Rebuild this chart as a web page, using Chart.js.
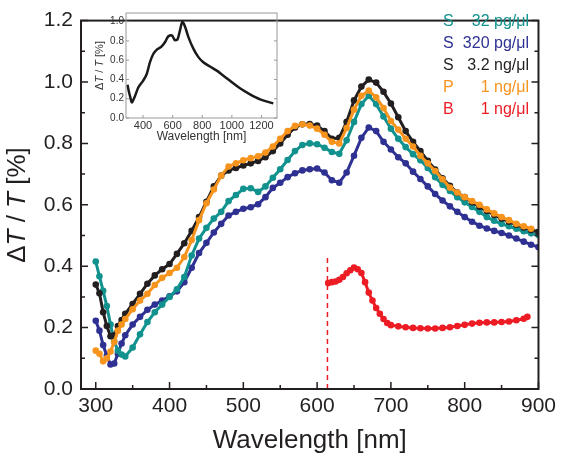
<!DOCTYPE html>
<html>
<head>
<meta charset="utf-8">
<script src="https://cdn.jsdelivr.net/npm/chart.js@4.4.0/dist/chart.umd.min.js"></script>
<style>
  body { margin: 0; background: #fff; }
  #wrap { position: relative; width: 561px; height: 459px; }
  #main { position: absolute; left: 0; top: 0; }
  #inset { position: absolute; left: 90px; top: 0; }
</style>
</head>
<body>
<div id="wrap">
  <canvas id="main" width="561" height="459"></canvas>
  <canvas id="inset" width="200" height="148"></canvas>
</div>
<script>
// wavelengths (nm) shared by the four S/P series
const wl = [300, 305, 310, 315, 320, 325, 330, 335, 340,
  350, 360, 370, 380, 390, 400, 410, 420, 430, 440,
  450, 460, 470, 480, 490, 500, 510, 520, 530, 540,
  550, 560, 570, 580, 590, 600, 610, 620, 630, 640,
  650, 660, 670, 680, 690, 700, 710, 720, 730, 740,
  750, 760, 770, 780, 790, 800, 810, 820, 830, 840,
  850, 860, 870, 880, 890, 900];

const s32pg = [0.415, 0.367, 0.32, 0.27, 0.21, 0.155, 0.125, 0.112, 0.106,
  0.135, 0.178, 0.218, 0.25, 0.275, 0.30, 0.325, 0.365, 0.435, 0.49,
  0.525, 0.555, 0.577, 0.612, 0.632, 0.652, 0.654, 0.642, 0.66, 0.688,
  0.716, 0.746, 0.775, 0.795, 0.80, 0.797, 0.786, 0.772, 0.766, 0.81,
  0.87, 0.928, 0.955, 0.928, 0.888, 0.848, 0.815, 0.788, 0.765, 0.745,
  0.72, 0.69, 0.665, 0.645, 0.625, 0.608, 0.593, 0.577, 0.56, 0.548,
  0.538, 0.53, 0.522, 0.514, 0.507, 0.502];

const s320pg = [0.222, 0.19, 0.143, 0.108, 0.08, 0.083, 0.115, 0.148, 0.175,
  0.21, 0.235, 0.258, 0.275, 0.288, 0.302, 0.318, 0.348, 0.395, 0.443,
  0.476, 0.51, 0.538, 0.565, 0.577, 0.587, 0.592, 0.602, 0.625, 0.655,
  0.672, 0.69, 0.703, 0.712, 0.716, 0.718, 0.705, 0.68, 0.672, 0.705,
  0.76, 0.818, 0.852, 0.84, 0.805, 0.78, 0.755, 0.735, 0.708, 0.684,
  0.66, 0.635, 0.614, 0.595, 0.577, 0.56, 0.545, 0.532, 0.523, 0.515,
  0.508, 0.5, 0.49, 0.48, 0.47, 0.462];

const s3ng = [0.34, 0.312, 0.25, 0.205, 0.172, 0.175, 0.205, 0.225, 0.245,
  0.277, 0.31, 0.343, 0.37, 0.39, 0.407, 0.44, 0.475, 0.515, 0.56,
  0.61, 0.66, 0.695, 0.712, 0.72, 0.728, 0.735, 0.743, 0.755, 0.775,
  0.80, 0.828, 0.852, 0.862, 0.863, 0.858, 0.84, 0.815, 0.818, 0.87,
  0.94, 0.985, 1.008, 0.998, 0.968, 0.93, 0.885, 0.84, 0.805, 0.775,
  0.743, 0.715, 0.686, 0.662, 0.64, 0.625, 0.608, 0.594, 0.58, 0.567,
  0.555, 0.545, 0.535, 0.526, 0.518, 0.512];

const p1ng = [0.125, 0.115, 0.09, 0.1, 0.122, 0.153, 0.19, 0.21, 0.228,
  0.26, 0.288, 0.31, 0.339, 0.362, 0.378, 0.395, 0.43, 0.485, 0.55,
  0.605, 0.65, 0.695, 0.725, 0.735, 0.745, 0.752, 0.758, 0.77, 0.79,
  0.815, 0.84, 0.857, 0.862, 0.858, 0.848, 0.828, 0.805, 0.80, 0.85,
  0.91, 0.955, 0.972, 0.95, 0.915, 0.873, 0.845, 0.815, 0.79, 0.76,
  0.735, 0.71, 0.683, 0.656, 0.64, 0.625, 0.612, 0.6, 0.585, 0.572,
  0.56, 0.55, 0.538, 0.53, 0.522, null];

// B sample starts after the cut-off marker
const wlB = [615, 620, 625, 630, 635, 640, 645, 650, 655, 660, 665, 670, 675, 680, 685,
  690, 695, 700, 710, 720, 730, 740, 750, 760, 770, 780, 790, 800, 810, 820,
  830, 840, 850, 860, 870, 880, 885];
const b1ng = [0.345, 0.348, 0.35, 0.356, 0.365, 0.377, 0.387, 0.396, 0.39, 0.378, 0.348, 0.314, 0.288, 0.264, 0.245,
  0.228, 0.215, 0.208, 0.204, 0.201, 0.199, 0.198, 0.197, 0.197, 0.199, 0.201, 0.205, 0.209, 0.213, 0.216,
  0.217, 0.217, 0.218, 0.22, 0.224, 0.229, 0.235];

const cutX = [614, 614];
const cutY = [0, 0.435];

// inset: broad range spectrum
const insetWl = [295, 305, 312, 318, 324, 335, 346, 368, 400, 425, 447, 470, 493, 526, 549, 571, 594,
  616, 632, 650, 666, 684, 706, 740, 774, 807, 853, 898, 943, 988, 1055, 1123, 1191, 1280];
const insetVal = [0.345, 0.27, 0.228, 0.19, 0.16, 0.19, 0.228, 0.316, 0.386, 0.457, 0.579, 0.667, 0.709, 0.744, 0.789, 0.849, 0.86,
  0.807, 0.815, 0.913, 1.0, 0.947, 0.842, 0.72, 0.632, 0.579, 0.534, 0.492, 0.439, 0.386, 0.309, 0.246, 0.194, 0.152];

const sampleType = ['S', 'S', 'S', 'P', 'B'];
const sampleConc = ['32 pg/μl', '320 pg/μl', '3.2 ng/μl', '1 ng/μl', '1 ng/μl'];
const colors = ['#12928e', '#2e3192', '#231f20', '#f7941d', '#ed1c24'];

const xTicks = [300, 400, 500, 600, 700, 800, 900];
const xMinor = [350, 450, 550, 650, 750, 850];
const yTicks = [0, 0.2, 0.4, 0.6, 0.8, 1.0, 1.2];
const yMinor = [0.1, 0.3, 0.5, 0.7, 0.9, 1.1];
const insetXTicks = [400, 600, 800, 1000, 1200];
const insetYTicks = [0, 0.2, 0.4, 0.6, 0.8, 1.0];

const FONT = '"Liberation Sans", Arial, sans-serif';
const INK = '#231f20';

const pts = (xs, ys) => xs.map((x, i) => ({ x: x, y: ys[i] }));

// "ΔT / T [%]" with italic T, rotated
function drawYTitle(ctx, cx, cy, size, color) {
  const parts = [['Δ', ''], ['T', 'italic '], [' / ', ''], ['T', 'italic '], [' [%]', '']];
  ctx.save();
  ctx.translate(cx, cy);
  ctx.rotate(-Math.PI / 2);
  ctx.fillStyle = color;
  ctx.textBaseline = 'middle';
  ctx.textAlign = 'left';
  let total = 0;
  parts.forEach(p => { ctx.font = p[1] + size + 'px ' + FONT; total += ctx.measureText(p[0]).width; });
  let x = -total / 2;
  parts.forEach(p => {
    ctx.font = p[1] + size + 'px ' + FONT;
    ctx.fillText(p[0], x, 0);
    x += ctx.measureText(p[0]).width;
  });
  ctx.restore();
}

function framePlugin(o) {
  return {
    id: 'frame',
    afterDraw(chart) {
      const ctx = chart.ctx, a = chart.chartArea, x = chart.scales.x, y = chart.scales.y;
      ctx.save();
      ctx.strokeStyle = o.color;
      ctx.lineWidth = o.width;
      ctx.strokeRect(a.left, a.top, a.right - a.left, a.bottom - a.top);
      ctx.lineWidth = o.tickWidth;
      ctx.beginPath();
      const xt = (vals, len) => vals.forEach(v => {
        const p = x.getPixelForValue(v);
        ctx.moveTo(p, a.bottom); ctx.lineTo(p, a.bottom - len);
      });
      const yt = (vals, len) => vals.forEach(v => {
        const p = y.getPixelForValue(v);
        ctx.moveTo(a.left, p); ctx.lineTo(a.left + len, p);
        ctx.moveTo(a.right, p); ctx.lineTo(a.right - len, p);
      });
      xt(o.xMajor, o.major); xt(o.xMinor, o.minor);
      yt(o.yMajor, o.major); yt(o.yMinor, o.minor);
      ctx.stroke();
      ctx.restore();
      drawYTitle(ctx, o.titleX, o.titleY || (a.top + a.bottom) / 2, o.titleSize, o.titleColor);
    }
  };
}

const legendPlugin = {
  id: 'sampleLegend',
  afterDraw(chart) {
    const ctx = chart.ctx;
    ctx.save();
    ctx.font = '16px ' + FONT;
    ctx.textBaseline = 'middle';
    sampleType.forEach((t, i) => {
      const yy = 22 + i * 22;
      ctx.fillStyle = colors[i];
      ctx.textAlign = 'left';
      ctx.fillText(t, 443, yy);
      ctx.textAlign = 'right';
      ctx.fillText(sampleConc[i], 529, yy);
    });
    ctx.restore();
  }
};

function series(label, data, color, order) {
  return {
    label: label,
    data: data,
    borderColor: color,
    backgroundColor: color,
    borderWidth: 3,
    pointRadius: 3.3,
    pointBorderWidth: 0,
    pointBackgroundColor: color,
    order: order
  };
}

new Chart(document.getElementById('main'), {
  type: 'line',
  data: {
    datasets: [
      series('S 32 pg/μl', pts(wl, s32pg), colors[0], 3),
      series('S 320 pg/μl', pts(wl, s320pg), colors[1], 4),
      series('S 3.2 ng/μl', pts(wl, s3ng), colors[2], 2),
      series('P 1 ng/μl', pts(wl, p1ng), colors[3], 1),
      series('B 1 ng/μl', pts(wlB, b1ng), colors[4], 0),
      {
        label: 'cut',
        data: pts(cutX, cutY),
        borderColor: colors[4],
        borderWidth: 1.5,
        borderDash: [5, 4],
        pointRadius: 0,
        order: 5
      }
    ]
  },
  options: {
    responsive: false,
    animation: false,
    events: [],
    layout: { padding: { top: 12, right: 20, left: 0, bottom: 0 } },
    plugins: { legend: { display: false }, tooltip: { enabled: false } },
    scales: {
      x: {
        type: 'linear',
        min: 280, max: 900,
        afterBuildTicks: s => { s.ticks = xTicks.map(v => ({ value: v })); },
        afterFit: s => { s.height = 70; },
        grid: { display: false, drawTicks: false },
        border: { display: false },
        ticks: { padding: 5, color: INK, font: { family: FONT, size: 21 }, callback: v => String(v) },
        title: { display: true, text: 'Wavelength [nm]', color: INK, padding: { top: 0, bottom: 3 },
                 font: { family: FONT, size: 26 } }
      },
      y: {
        min: 0, max: 1.2,
        afterBuildTicks: s => { s.ticks = yTicks.map(v => ({ value: v })); },
        afterFit: s => { s.width = 81; },
        grid: { display: false, drawTicks: false },
        border: { display: false },
        ticks: { padding: 8, color: INK, font: { family: FONT, size: 21 }, callback: v => v.toFixed(1) }
      }
    }
  },
  plugins: [framePlugin({
    color: INK, width: 2, tickWidth: 1.5, major: 7, minor: 4,
    xMajor: xTicks, xMinor: xMinor, yMajor: yTicks, yMinor: yMinor,
    titleX: 18, titleY: 205, titleSize: 26, titleColor: INK
  }), legendPlugin]
});

new Chart(document.getElementById('inset'), {
  type: 'line',
  data: {
    datasets: [{
      label: 'inset',
      data: pts(insetWl, insetVal),
      borderColor: '#1a1a1a',
      borderWidth: 2.5,
      pointRadius: 0,
      cubicInterpolationMode: 'monotone'
    }]
  },
  options: {
    responsive: false,
    animation: false,
    events: [],
    layout: { padding: { top: 13, right: 13, left: 0, bottom: 0 } },
    plugins: { legend: { display: false }, tooltip: { enabled: false } },
    scales: {
      x: {
        type: 'linear',
        min: 285, max: 1305,
        afterBuildTicks: s => { s.ticks = insetXTicks.map(v => ({ value: v })); },
        afterFit: s => { s.height = 30; },
        grid: { display: false, drawTicks: false },
        border: { display: false },
        ticks: { padding: 1, color: '#333', font: { family: FONT, size: 11 }, callback: v => String(v) },
        title: { display: true, text: 'Wavelength [nm]', color: '#333', padding: { top: 0, bottom: 4 },
                 font: { family: FONT, size: 12 } }
      },
      y: {
        min: 0, max: 1.09,
        afterBuildTicks: s => { s.ticks = insetYTicks.map(v => ({ value: v })); },
        afterFit: s => { s.width = 36; },
        grid: { display: false, drawTicks: false },
        border: { display: false },
        ticks: { padding: 2, color: '#333', font: { family: FONT, size: 10 }, callback: v => v.toFixed(1) }
      }
    }
  },
  plugins: [framePlugin({
    color: '#9a9a9a', width: 1, tickWidth: 1, major: 3, minor: 0,
    xMajor: insetXTicks, xMinor: [], yMajor: insetYTicks, yMinor: [],
    titleX: 10, titleSize: 11, titleColor: '#333'
  })]
});
</script>
</body>
</html>
